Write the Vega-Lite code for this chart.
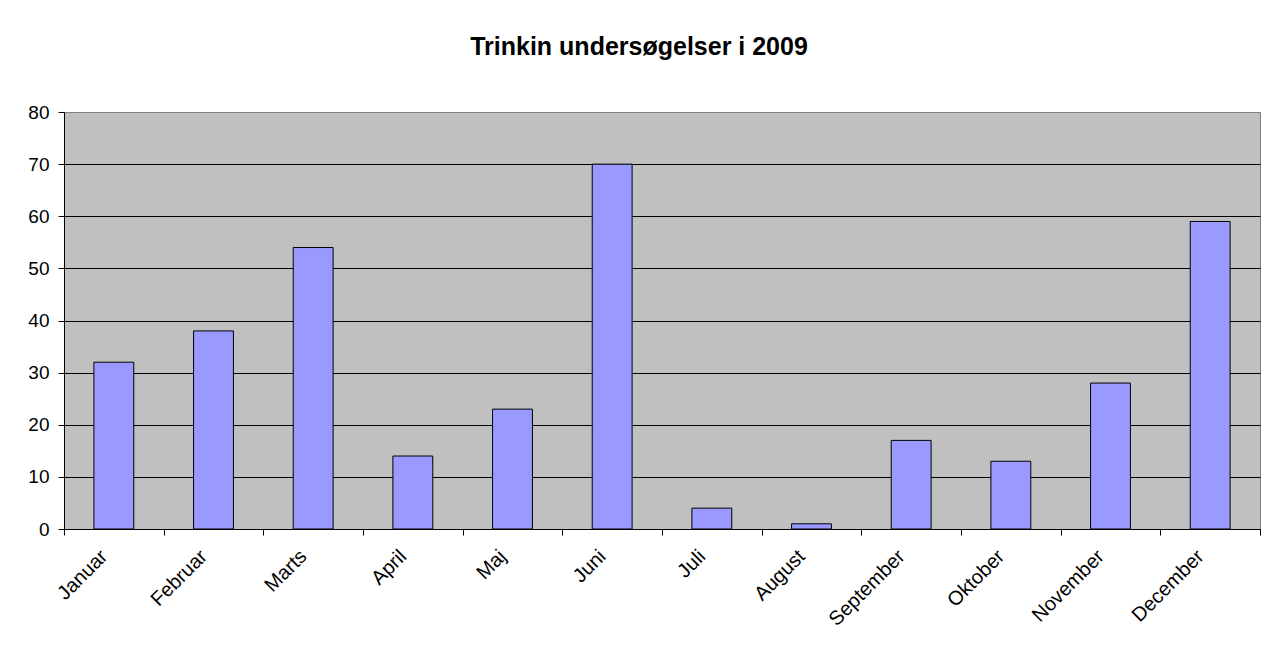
{
  "$schema": "https://vega.github.io/schema/vega-lite/v6.json",
  "width": 1196,
  "height": 417,
  "autosize": {"type": "none"},
  "padding": {"left": 64, "top": 112, "right": 17, "bottom": 125},
  "background": "white",
  "title": {
    "text": "Trinkin undersøgelser i 2009",
    "font": "Liberation Sans",
    "fontSize": 25,
    "fontWeight": "bold",
    "color": "black",
    "anchor": "middle",
    "baseline": "alphabetic",
    "offset": 23,
    "dx": -23
  },
  "data": {
    "values": [
      {"month": "Januar", "value": 32},
      {"month": "Februar", "value": 38},
      {"month": "Marts", "value": 54},
      {"month": "April", "value": 14},
      {"month": "Maj", "value": 23},
      {"month": "Juni", "value": 70},
      {"month": "Juli", "value": 4},
      {"month": "August", "value": 1},
      {"month": "September", "value": 17},
      {"month": "Oktober", "value": 13},
      {"month": "November", "value": 28},
      {"month": "December", "value": 59}
    ]
  },
  "mark": {"type": "bar", "fill": "#9999FF", "stroke": "black", "strokeWidth": 1, "width": {"band": 0.4}},
  "encoding": {
    "x": {
      "field": "month",
      "type": "nominal",
      "sort": null,
      "scale": {"paddingInner": 0, "paddingOuter": 0},
      "axis": {
        "title": null,
        "labelAngle": -45,
        "labelAlign": "right",
        "labelBaseline": "middle",
        "labelPadding": 18,
        "labelOffset": -10,
        "labelFont": "Liberation Sans",
        "labelFontSize": 20,
        "labelColor": "black",
        "tickBand": "extent",
        "tickSize": 6,
        "tickColor": "black",
        "domainColor": "black",
        "grid": false
      }
    },
    "y": {
      "field": "value",
      "type": "quantitative",
      "scale": {"domain": [0, 80], "nice": false},
      "axis": {
        "title": null,
        "values": [0, 10, 20, 30, 40, 50, 60, 70, 80],
        "labelFont": "Liberation Sans",
        "labelFontSize": 19,
        "labelColor": "black",
        "labelPadding": 9,
        "tickSize": 6,
        "tickColor": "black",
        "domainColor": "black",
        "grid": true,
        "gridColor": {"condition": {"test": "datum.value === 80", "value": "#808080"}, "value": "black"},
        "gridOpacity": 1
      }
    }
  },
  "config": {
    "view": {"fill": "#C0C0C0", "stroke": "#808080", "strokeWidth": 1},
    "axis": {"domainWidth": 1, "tickWidth": 1, "gridWidth": 1}
  }
}
